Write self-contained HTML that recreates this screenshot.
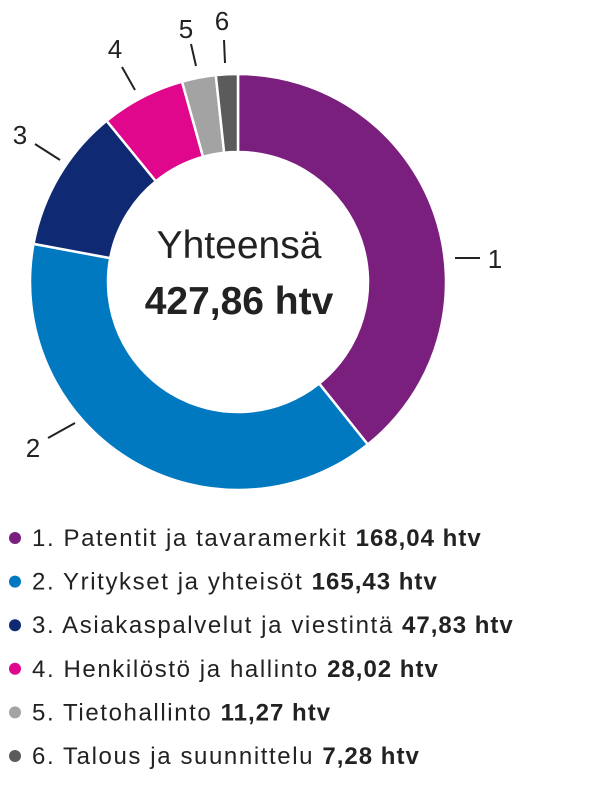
<!DOCTYPE html>
<html><head><meta charset="utf-8"><style>
body{margin:0;background:#fff;width:600px;height:800px;overflow:hidden;font-family:"Liberation Sans",sans-serif;}
svg text{font-family:"Liberation Sans",sans-serif;}
</style></head><body>
<svg width="600" height="800">
<g id="slices"></g>
<g id="labels"></g>
<text x="239" y="258" text-anchor="middle" font-size="39" fill="#222">Yhteensä</text>
<text x="239" y="314" text-anchor="middle" font-size="39" font-weight="bold" fill="#222">427,86 htv</text>
<g id="legend"></g>
</svg>
<script>
const categories=["Patentit ja tavaramerkit","Yritykset ja yhteisöt","Asiakaspalvelut ja viestintä","Henkilöstö ja hallinto","Tietohallinto","Talous ja suunnittelu"];
const values=[168.04,165.43,47.83,28.02,11.27,7.28];
const valueLabels=["168,04 htv","165,43 htv","47,83 htv","28,02 htv","11,27 htv","7,28 htv"];
const colors=["#7b1f7e","#0079c1","#0f2a72","#e0078c","#a3a3a3","#5b5b5b"];
const NS="http://www.w3.org/2000/svg";
const cx=238,cy=282,R=208,r=130;
// label layout (styling, not data): [lineX1,lineY1,lineX2,lineY2,textX,textY]
const labelLayout=[[455,258,480,258,495,268],[75,423,48,438,33,457],[60,160,35,144,20,144],[135,90,122,67,115,58],[196,66,191,44,186,38],[225,63,224,40,222,30]];
const total=values.reduce((a,b)=>a+b,0);
function pt(a,rad){return [cx+rad*Math.sin(a),cy-rad*Math.cos(a)];}
let acc=0;
const sg=document.getElementById('slices'),lg=document.getElementById('labels'),leg=document.getElementById('legend');
values.forEach((v,i)=>{
 const a0=acc/total*2*Math.PI; acc+=v; const a1=acc/total*2*Math.PI;
 const large=(a1-a0)>Math.PI?1:0;
 const [x0,y0]=pt(a0,R),[x1,y1]=pt(a1,R),[x2,y2]=pt(a1,r),[x3,y3]=pt(a0,r);
 const p=document.createElementNS(NS,'path');
 p.setAttribute('d',`M${x0},${y0}A${R},${R} 0 ${large} 1 ${x1},${y1}L${x2},${y2}A${r},${r} 0 ${large} 0 ${x3},${y3}Z`);
 p.setAttribute('fill',colors[i]);p.setAttribute('stroke','#fff');p.setAttribute('stroke-width','2.5');
 
 
 sg.appendChild(p);
 const L=labelLayout[i];
 const l=document.createElementNS(NS,'line');
 l.setAttribute('x1',L[0]);l.setAttribute('y1',L[1]);l.setAttribute('x2',L[2]);l.setAttribute('y2',L[3]);
 l.setAttribute('stroke','#222');l.setAttribute('stroke-width','2');
 
 
 lg.appendChild(l);
 const t=document.createElementNS(NS,'text');
 t.setAttribute('x',L[4]);t.setAttribute('y',L[5]);t.setAttribute('text-anchor','middle');t.setAttribute('font-size','26');t.setAttribute('fill','#222');
 t.textContent=String(i+1);
 
 
 lg.appendChild(t);
 const y=538+i*43.6;
 const g=document.createElementNS(NS,'g');
 
 
 const c=document.createElementNS(NS,'circle');
 c.setAttribute('cx',15);c.setAttribute('cy',y);c.setAttribute('r',6);c.setAttribute('fill',colors[i]);
 g.appendChild(c);
 const tt=document.createElementNS(NS,'text');
 tt.setAttribute('x',32);tt.setAttribute('y',y+8);tt.setAttribute('font-size','24');tt.setAttribute('fill','#222');tt.setAttribute('letter-spacing','1.6');
 const s1=document.createElementNS(NS,'tspan');s1.textContent=(i+1)+". "+categories[i]+" ";
 const s2=document.createElementNS(NS,'tspan');s2.setAttribute('font-weight','bold');s2.setAttribute('letter-spacing','1');s2.textContent=valueLabels[i];
 tt.appendChild(s1);tt.appendChild(s2);g.appendChild(tt);
 leg.appendChild(g);
});
</script>
</body></html>
